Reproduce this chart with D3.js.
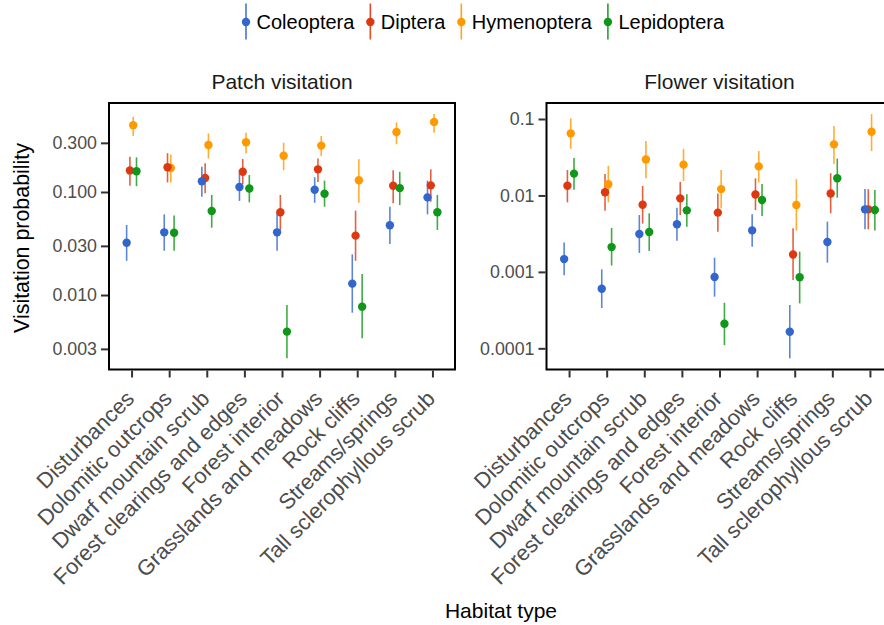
<!DOCTYPE html>
<html>
<head>
<meta charset="utf-8">
<script src="https://cdn.jsdelivr.net/npm/d3@7"></script>
<style>
  html, body { margin: 0; padding: 0; background: #fff; overflow: hidden; }
  svg { display: block; font-family: "Liberation Sans", Arial, sans-serif; }
</style>
</head>
<body>
<svg id="chart" width="884" height="625"></svg>
<script>
// ---------------- DATA ----------------
const habitats = ["Disturbances", "Dolomitic outcrops", "Dwarf mountain scrub",
  "Forest clearings and edges", "Forest interior", "Grasslands and meadows",
  "Rock cliffs", "Streams/springs", "Tall sclerophyllous scrub"];
const taxa = ["Coleoptera", "Diptera", "Hymenoptera", "Lepidoptera"];
const taxaColors = ["#3366CC", "#DC3912", "#FF9900", "#109618"];
const panelTitles = ["Patch visitation", "Flower visitation"];

// Patch visitation: [Coleoptera, Diptera, Hymenoptera, Lepidoptera] x habitats
const patchMean = [
  [0.0322, 0.0406, 0.127, 0.112, 0.0406, 0.105, 0.0129, 0.0475, 0.0887],
  [0.162, 0.174, 0.137, 0.157, 0.0635, 0.166, 0.0377, 0.115, 0.116],
  [0.445, 0.171, 0.286, 0.304, 0.225, 0.282, 0.130, 0.383, 0.479],
  [0.159, 0.0402, 0.0654, 0.108, 0.00441, 0.0963, 0.00771, 0.109, 0.0635]
];
const patchLower = [
  [0.0215, 0.0269, 0.090, 0.082, 0.0269, 0.0787, 0.00673, 0.0313, 0.0607],
  [0.115, 0.124, 0.097, 0.119, 0.0428, 0.125, 0.0215, 0.0776, 0.0805],
  [0.350, 0.124, 0.212, 0.237, 0.163, 0.224, 0.0787, 0.290, 0.377],
  [0.114, 0.0269, 0.045, 0.0794, 0.00243, 0.072, 0.0038, 0.0748, 0.0428]
];
const patchUpper = [
  [0.0479, 0.0607, 0.176, 0.152, 0.0621, 0.139, 0.0248, 0.0720, 0.129],
  [0.220, 0.238, 0.190, 0.209, 0.0935, 0.212, 0.0659, 0.163, 0.166],
  [0.538, 0.231, 0.371, 0.377, 0.301, 0.350, 0.208, 0.474, 0.572],
  [0.217, 0.0593, 0.0935, 0.146, 0.0080, 0.129, 0.016, 0.157, 0.0935]
];

// Flower visitation
const flowerMean = [
  [0.00147, 0.000603, 0.00313, 0.00419, 0.000857, 0.00349, 0.000165, 0.00246, 0.00658],
  [0.0134, 0.0110, 0.00757, 0.00916, 0.00596, 0.0103, 0.00169, 0.0106, 0.00658],
  [0.0649, 0.0140, 0.0296, 0.0253, 0.0121, 0.0240, 0.00750, 0.0466, 0.0683],
  [0.0193, 0.00211, 0.00332, 0.00638, 0.000210, 0.00870, 0.000849, 0.0168, 0.00645]
];
const flowerLower = [
  [0.000902, 0.000337, 0.00177, 0.00256, 0.000474, 0.00214, 0.0000739, 0.00132, 0.00360],
  [0.00813, 0.00632, 0.00428, 0.00554, 0.00336, 0.00644, 0.000783, 0.00584, 0.00360],
  [0.0409, 0.00813, 0.0168, 0.0155, 0.00678, 0.0148, 0.00346, 0.0258, 0.0381],
  [0.0119, 0.00121, 0.00188, 0.00390, 0.000110, 0.00538, 0.000387, 0.00935, 0.00349]
];
const flowerUpper = [
  [0.00243, 0.00108, 0.00554, 0.00692, 0.00153, 0.00566, 0.000369, 0.00454, 0.0121],
  [0.0215, 0.0191, 0.0133, 0.0150, 0.0106, 0.0167, 0.00371, 0.0195, 0.0121],
  [0.102, 0.0243, 0.0515, 0.0406, 0.0215, 0.0381, 0.0163, 0.0810, 0.116],
  [0.0309, 0.00375, 0.00584, 0.0104, 0.000395, 0.0141, 0.00184, 0.0303, 0.0118]
];

const patchTicks = [0.003, 0.01, 0.03, 0.1, 0.3];
const patchTickLabels = ["0.003", "0.010", "0.030", "0.100", "0.300"];
const flowerTicks = [0.0001, 0.001, 0.01, 0.1];
const flowerTickLabels = ["0.0001", "0.001", "0.01", "0.1"];

// ---------------- LAYOUT ----------------
const svg = d3.select("#chart");
const plotTop = 103, plotBottom = 369.5;
const panels = [
  { x0: 109, x1: 455, domain: [Math.pow(10, -2.723), Math.pow(10, -0.136)],
    mean: patchMean, lower: patchLower, upper: patchUpper,
    ticks: patchTicks, labels: patchTickLabels, title: panelTitles[0] },
  { x0: 546.5, x1: 892.5, domain: [Math.pow(10, -4.277), Math.pow(10, -0.7907)],
    mean: flowerMean, lower: flowerLower, upper: flowerUpper,
    ticks: flowerTicks, labels: flowerTickLabels, title: panelTitles[1] }
];
const dodge = [-0.13125, -0.04375, 0.04375, 0.13125];
const drawOrder = [2, 1, 3, 0];

panels.forEach(p => {
  const x = d3.scalePoint().domain(habitats).range([p.x0, p.x1]).padding(0.6);
  const step = x.step();
  const y = d3.scaleLog().domain(p.domain).range([plotBottom, plotTop]);
  const g = svg.append("g");

  // Error bars
  drawOrder.forEach(t => {
    g.selectAll(null).data(habitats).enter().append("line")
      .attr("x1", (h, i) => x(h) + dodge[t] * step)
      .attr("x2", (h, i) => x(h) + dodge[t] * step)
      .attr("y1", (h, i) => y(p.lower[t][i]))
      .attr("y2", (h, i) => y(p.upper[t][i]))
      .attr("stroke", taxaColors[t])
      .attr("stroke-opacity", 0.8)
      .attr("stroke-width", 1.6);
  });
  // Points
  drawOrder.forEach(t => {
    g.selectAll(null).data(habitats).enter().append("circle")
      .attr("cx", (h, i) => x(h) + dodge[t] * step)
      .attr("cy", (h, i) => y(p.mean[t][i]))
      .attr("r", 4.2)
      .attr("fill", taxaColors[t]);
  });

  // Frame
  g.append("rect").attr("x", p.x0).attr("y", plotTop)
    .attr("width", p.x1 - p.x0).attr("height", plotBottom - plotTop)
    .attr("fill", "none").attr("stroke", "#000").attr("stroke-width", 2);

  // Y axis
  const yAxis = d3.axisLeft(y).tickValues(p.ticks)
    .tickFormat((d, i) => p.labels[i]).tickSize(7).tickPadding(4);
  const ya = g.append("g").attr("transform", `translate(${p.x0 - 1},0)`).call(yAxis);
  ya.select(".domain").remove();
  ya.selectAll(".tick line").attr("stroke", "#333").attr("stroke-width", 2);
  ya.selectAll(".tick text").attr("fill", "#4D4D4D")
    .style("font-size", "17.8px").style("font-family", "Liberation Sans, Arial, sans-serif");

  // X axis
  const xAxis = d3.axisBottom(x).tickSize(7).tickFormat("");
  const xa = g.append("g").attr("transform", `translate(0,${plotBottom + 1})`).call(xAxis);
  xa.select(".domain").remove();
  xa.selectAll(".tick line").attr("stroke", "#333").attr("stroke-width", 2);
  g.selectAll(null).data(habitats).enter().append("text")
    .attr("transform", h => `translate(${x(h) + 4},400) rotate(-45)`)
    .attr("text-anchor", "end")
    .attr("fill", "#4D4D4D")
    .style("font-size", "21.8px")
    .text(h => h);

  // Panel title
  g.append("text").attr("x", (p.x0 + p.x1) / 2).attr("y", 89)
    .attr("text-anchor", "middle").attr("fill", "#1a1a1a")
    .style("font-size", "21px").text(p.title);
});

// Axis titles
svg.append("text").attr("x", 501).attr("y", 618)
  .attr("text-anchor", "middle").attr("fill", "#000")
  .style("font-size", "21px").text("Habitat type");
svg.append("text").attr("transform", "translate(29,238) rotate(-90)")
  .attr("text-anchor", "middle").attr("fill", "#000")
  .style("font-size", "21.4px").text("Visitation probability");

// Legend
const legend = svg.append("g");
let lx = 246;
taxa.forEach((t, i) => {
  legend.append("line").attr("x1", lx).attr("x2", lx).attr("y1", 3.5).attr("y2", 39.5)
    .attr("stroke", taxaColors[i]).attr("stroke-width", 1.6).attr("stroke-opacity", 0.9);
  legend.append("circle").attr("cx", lx).attr("cy", 22).attr("r", 4.2).attr("fill", taxaColors[i]);
  const txt = legend.append("text").attr("x", lx + 10.5).attr("y", 29.2)
    .attr("fill", "#000").style("font-size", "20px").text(t);
  lx = lx + 10.5 + txt.node().getComputedTextLength() + 16;
});
</script>
</body>
</html>
